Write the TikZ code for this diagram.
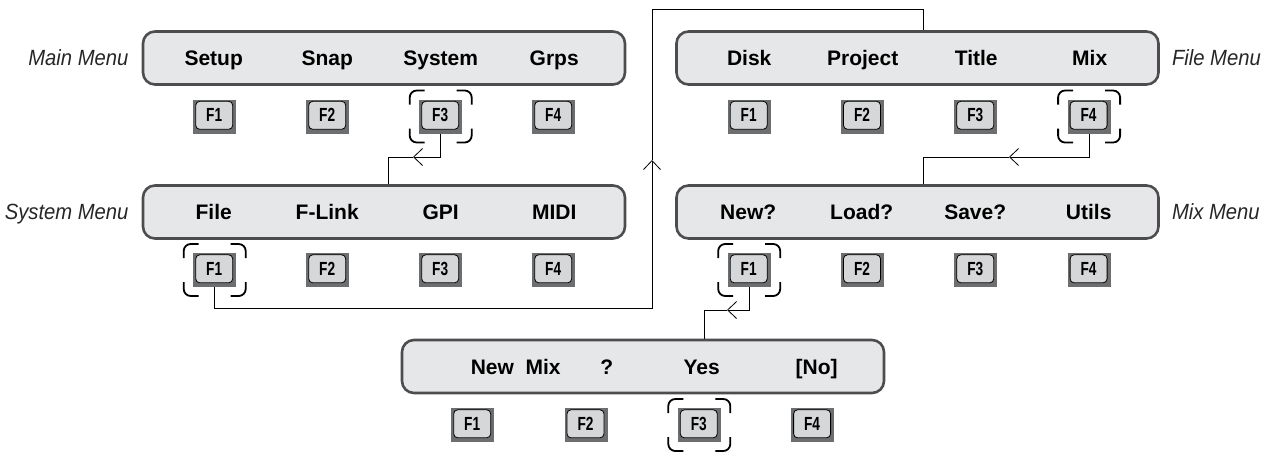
\documentclass[tikz,border=0pt]{standalone}
\usepackage{fontspec}
\setmainfont{Liberation Sans}
\newfontfamily\keyfont{Liberation Sans}[FakeStretch=0.72]
\newfontfamily\capfont{Liberation Sans}[FakeStretch=0.92]
\usetikzlibrary{arrows.meta,positioning,calc}
\definecolor{panelgray}{HTML}{E6E7E8}
\definecolor{rimgray}{HTML}{4D4D4F}
\definecolor{keygray}{HTML}{D6D7D8}
\definecolor{keyshade}{HTML}{6D6E70}

% function key: name, position, label
\newcommand{\fkey}[3]{%
  \node[keyback] (#1) at (#2) {};
  \node[keyface] (#1-f) at ([xshift=-0.5,yshift=1.2]#1.center) {#3};
}
% corner marks round the key that is pressed
\newcommand{\selmark}[1]{%
  \foreach \sx/\sy in {-1/1,1/1,-1/-1,1/-1}
    \draw[selline] ($(#1.center)+({31*\sx},{12*\sy})$)
      |- ($(#1.center)+({16*\sx},{26*\sy})$);
}

\begin{document}
\begin{tikzpicture}[x=1pt, y=1pt, >={Straight Barb[length=9pt,width=17pt]},
  menubox/.style={rectangle, rounded corners=12pt, fill=panelgray, draw=rimgray,
    line width=2.6pt, minimum width=482pt, minimum height=53pt, inner sep=0pt},
  itemlab/.style={font=\bfseries\fontsize{21}{24}\selectfont, text height=15pt,
    text depth=0pt, inner sep=0pt},
  caplab/.style={font=\capfont\itshape\fontsize{22}{26}\selectfont, text height=15.5pt,
    text depth=0pt, inner sep=0pt, black!85},
  keyback/.style={rectangle, fill=keyshade, minimum width=43pt, minimum height=34pt,
    inner sep=0pt},
  keyface/.style={rectangle, rounded corners=4pt, fill=keygray, draw=black,
    line width=0.8pt, minimum width=37pt, minimum height=28pt, inner sep=0pt,
    font=\keyfont\bfseries\fontsize{19}{19}\selectfont},
  selline/.style={line width=1.8pt, rounded corners=7pt},
  wire/.style={line width=0.8pt}]
  \useasboundingbox (0,0) rectangle (1275,-451);

  % menu panels
  \node[menubox] (mainM) at (384,-58) {};
  \node[menubox] (sysM)  at (384,-212) {};
  \node[menubox] (fileM) at (917.5,-58) {};
  \node[menubox] (mixM)  at (917.5,-212) {};
  \node[menubox] (newM)  at (643,-366.5) {};

  % panel names
  \node[caplab, anchor=east] (mainC) at ([xshift=-13]mainM.west) {Main Menu};
  \node[caplab, anchor=east] (sysC)  at ([xshift=-13]sysM.west) {System Menu};
  \node[caplab, anchor=west] (fileC) at ([xshift=12]fileM.east) {File Menu};
  \node[caplab, anchor=west] (mixC)  at ([xshift=12]mixM.east) {Mix Menu};

  % menu items
  \foreach \lab [count=\i] in {Setup,Snap,System,Grps}
    \node[itemlab] (mainL\i) at ($(mainM.west)+(72+113.5*\i-113.5,0)$) {\lab};
  \foreach \lab [count=\i] in {File,F-Link,GPI,MIDI}
    \node[itemlab] (sysL\i) at ($(sysM.west)+(72+113.5*\i-113.5,0)$) {\lab};
  \foreach \lab [count=\i] in {Disk,Project,Title,Mix}
    \node[itemlab] (fileL\i) at ($(fileM.west)+(74+113.5*\i-113.5,0)$) {\lab};
  \foreach \lab [count=\i] in {New?,Load?,Save?,Utils}
    \node[itemlab] (mixL\i) at ($(mixM.west)+(73+113.5*\i-113.5,0)$) {\lab};
  \node[itemlab] (newL1) at ($(newM.west)+(115,0)$) {New\ \ Mix};
  \node[itemlab] (newL2) at ($(newM.west)+(206,0)$) {?};
  \node[itemlab] (newL3) at ($(newM.west)+(301,0)$) {Yes};
  \node[itemlab] (newL4) at ($(newM.west)+(416,0)$) {[No]};

  % soft keys
  \foreach \i in {1,...,4} {
    \fkey{m\i}{$(mainM.west)+(73+113*\i-113,-58.5)$}{F\i}
    \fkey{s\i}{$(sysM.west)+(73+113*\i-113,-58)$}{F\i}
    \fkey{f\i}{$(fileM.west)+(74+113.3*\i-113.3,-58.5)$}{F\i}
    \fkey{x\i}{$(mixM.west)+(74+113.3*\i-113.3,-58)$}{F\i}
    \fkey{n\i}{$(newM.west)+(72+113.3*\i-113.3,-58.5)$}{F\i}
  }
  \selmark{m3}
  \selmark{s1}
  \selmark{f4}
  \selmark{x1}
  \selmark{n3}

  % connectors
  \coordinate (t1) at (413,-157);
  \draw[wire,->] (m3.south) |- (t1);
  \draw[wire] (t1) -| ([xshift=4]sysM.north);

  \coordinate (t2) at (652,-160);
  \draw[wire,->] (s1.south) -- ++(0,-21) -| (t2);
  \draw[wire] (t2) -- ++(0,151) -| ([xshift=6]fileM.north);

  \coordinate (t3) at (1009,-157);
  \draw[wire,->] (f4.south) |- (t3);
  \draw[wire] (t3) -| ([xshift=6]mixM.north);

  \coordinate (t4) at (727,-310);
  \draw[wire,->] (x1.south) |- (t4);
  \draw[wire] (t4) -| ([xshift=61]newM.north);
\end{tikzpicture}
\end{document}
